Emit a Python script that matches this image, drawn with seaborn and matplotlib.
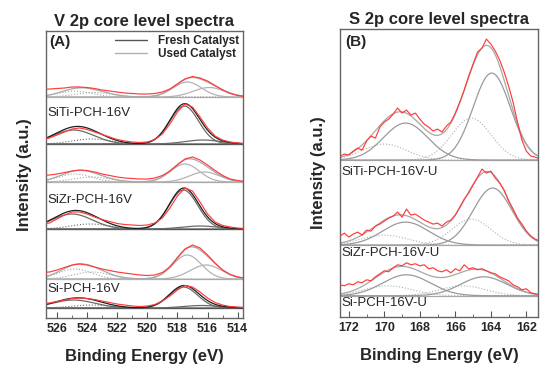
import numpy as np
import seaborn as sns
import matplotlib.pyplot as plt
from matplotlib.lines import Line2D

# ---------------- V 2p data (panel A) ----------------
v_energy = [527.0, 526.5, 526.0, 525.5, 525.0, 524.5, 524.0, 523.5, 523.0, 522.5,
            522.0, 521.5, 521.0, 520.5, 520.0, 519.5, 519.0, 518.5, 518.0, 517.5,
            517.0, 516.5, 516.0, 515.5, 515.0, 514.5, 514.0, 513.5]
# measured spectra (red), intensity above each baseline
v_siti_used = [7.5, 8, 8.5, 9, 10, 10, 9.5, 8.5, 7, 6, 5, 4, 3.5, 3, 3, 3.5, 5, 8, 13, 18,
               20.5, 19, 16, 11.5, 7, 3.5, 1.5, 0.5]
v_siti_fresh = [4, 6, 9, 12, 15, 16, 14.5, 12, 9.5, 7, 4.5, 3, 2, 1.5, 2, 4.5, 10, 20, 32, 40,
                37, 27, 16, 8, 4, 2, 1, 0.5]
v_sizr_used = [6.5, 7, 8, 9.5, 11, 12, 11.5, 10, 8, 6.5, 5, 4, 3.5, 3, 3, 4, 6.5, 11, 17, 23,
               25, 22, 17, 11.5, 6.5, 3, 1.5, 0.5]
v_sizr_fresh = [5, 6, 10, 14, 17, 17, 15, 12, 9.5, 7.5, 5.5, 4.5, 4, 3.5, 4, 6, 11, 21, 33, 41,
                38, 27, 15, 7, 3.5, 2, 1, 0.5]
v_si_used = [6.5, 7, 9, 11.5, 14, 15, 14, 12, 10, 8.5, 7, 6, 5, 4, 3.5, 4, 6.5, 12, 21, 30,
             34, 31, 24, 16, 9, 4.5, 2, 1]
v_si_fresh = [4.5, 5, 6.5, 8, 9.5, 10, 9.5, 8.5, 7, 5.5, 4, 3, 2, 1.5, 2, 3.5, 7, 12, 18, 22.5,
              21, 16, 10, 5.5, 3, 1.5, 1, 0.5]

# fitted components: (centre eV, height, sigma)
v_siti_used_fit = [(517.35, 15, 0.95), (515.9, 9.5, 1.05)]
v_siti_used_dot = [(524.8, 6, 1.1), (523.6, 4.5, 1.2)]
v_siti_fresh_fit = [(517.55, 38, 0.95), (516.3, 4, 1.2), (524.9, 14, 1.35)]
v_siti_fresh_dot = [(523.7, 5, 1.3)]
v_sizr_used_fit = [(517.5, 18, 0.95), (516.2, 10, 1.0)]
v_sizr_used_dot = [(524.8, 8, 1.1), (523.7, 5, 1.2)]
v_sizr_fresh_fit = [(517.6, 39, 0.95), (516.5, 3, 1.2), (525.0, 15, 1.35)]
v_sizr_fresh_dot = [(523.8, 5, 1.3)]
v_si_used_fit = [(517.35, 24, 0.95), (516.1, 14, 1.05)]
v_si_used_dot = [(524.8, 10, 1.1), (523.7, 7, 1.2)]
v_si_fresh_fit = [(517.6, 21, 0.95), (516.4, 2.5, 1.2), (524.9, 8, 1.4)]
v_si_fresh_dot = [(523.7, 3, 1.3)]

v_names = ['SiTi-PCH-16V', 'SiZr-PCH-16V', 'Si-PCH-16V']
v_ticks = [526, 524, 522, 520, 518, 516, 514]

# ---------------- S 2p data (panel B) ----------------
s_energy = [172.5, 172.25, 172.0, 171.75, 171.5, 171.25, 171.0, 170.75, 170.5, 170.25,
            170.0, 169.75, 169.5, 169.25, 169.0, 168.75, 168.5, 168.25, 168.0, 167.75,
            167.5, 167.25, 167.0, 166.75, 166.5, 166.25, 166.0, 165.75, 165.5, 165.25,
            165.0, 164.75, 164.5, 164.25, 164.0, 163.75, 163.5, 163.25, 163.0, 162.75,
            162.5, 162.25, 162.0, 161.75, 161.5, 161.25]
s_siti = [4, 6, 5, 9, 12, 10, 19, 24, 22, 33, 38, 41, 46, 52, 47, 50, 45, 47, 41, 36,
          33, 29, 31, 28, 34, 38, 47, 58, 70, 84, 96, 108, 112, 121, 116, 109, 100, 88, 74, 58,
          38, 20, 9, 4, 3, 1]
s_sizr = [9, 12, 8, 11, 13, 10, 15, 14, 19, 21, 24, 27, 29, 33, 28, 36, 30, 31, 28, 25,
          23, 21, 22, 19, 23, 25, 30, 38, 46, 52, 60, 68, 76, 72, 74, 67, 62, 55, 44, 36,
          27, 21, 14, 9, 6, 4]
s_si = [11, 10, 12, 11, 14, 13, 16, 15, 19, 22, 25, 24, 28, 31, 30, 33, 31, 32, 30, 31,
        27, 28, 25, 24, 26, 23, 27, 25, 31, 27, 28, 26, 27, 25, 23, 22, 19, 17, 15, 11,
        9, 6, 7, 3, 2, 1]

s_siti_fit = [(168.8, 37, 1.25), (163.95, 87, 1.05)]
s_siti_dot = [(170.0, 16, 1.25), (165.1, 42, 1.1)]
s_sizr_fit = [(168.8, 23, 1.3), (163.9, 57, 1.1)]
s_sizr_dot = [(170.0, 10, 1.3), (165.1, 26, 1.1)]
s_si_fit = [(168.75, 21, 1.35), (164.4, 19, 1.3)]
s_si_dot = [(169.8, 10, 1.35), (165.6, 10, 1.3)]

s_names = ['SiTi-PCH-16V-U', 'SiZr-PCH-16V-U', 'Si-PCH-16V-U']
s_ticks = [172, 170, 168, 166, 164, 162]


def gauss(e, c, h, s):
    return h * np.exp(-0.5 * ((e - c) / s) ** 2)


def draw_stack(ax, grid, red_x, red_y, fit, dots, base, c_fit, c_env, c_dot):
    line_kw = dict(ax=ax, estimator=None, sort=False, legend=False)
    sns.lineplot(x=[grid[0], grid[-1]], y=[base, base], color=c_env, lw=0.9, **line_kw)
    env = np.zeros_like(grid)
    for c, h, s in dots:
        y = gauss(grid, c, h, s)
        env += y
        sns.lineplot(x=grid, y=y + base, color=c_dot, lw=0.8, linestyle=':', **line_kw)
    for c, h, s in fit:
        y = gauss(grid, c, h, s)
        env += y
        sns.lineplot(x=grid, y=y + base, color=c_fit, lw=0.9, **line_kw)
    sns.lineplot(x=grid, y=env + base, color=c_env, lw=0.9, **line_kw)
    sns.lineplot(x=red_x, y=np.array(red_y) + base, color='#ff3b3b', lw=0.85,
                 zorder=5, **line_kw)


sns.set_style('ticks')
plt.rcParams['font.family'] = ['Liberation Sans', 'DejaVu Sans']

fig = plt.figure(figsize=(5.5, 3.7), dpi=100)
axA = fig.add_axes([0.083, 0.1405, 0.3587, 0.7757])
axB = fig.add_axes([0.618, 0.143, 0.36, 0.7784])

FRESH = ('#6a6a6a', '#1e1e1e', '#6a6a6a')
USED = ('#b4b4b4', '#a8a8a8', '#a8a8a8')

# panel A
gridA = np.linspace(527.0, 513.4, 500)
a_stacks = [
    (v_siti_used, v_siti_used_fit, v_siti_used_dot, 221, USED),
    (v_siti_fresh, v_siti_fresh_fit, v_siti_fresh_dot, 174, FRESH),
    (v_sizr_used, v_sizr_used_fit, v_sizr_used_dot, 136, USED),
    (v_sizr_fresh, v_sizr_fresh_fit, v_sizr_fresh_dot, 89, FRESH),
    (v_si_used, v_si_used_fit, v_si_used_dot, 39, USED),
    (v_si_fresh, v_si_fresh_fit, v_si_fresh_dot, 10, FRESH),
]
for red, fit, dots, base, cols in a_stacks:
    draw_stack(axA, gridA, v_energy, red, fit, dots, base, *cols)

for name, yy in zip(v_names, [205, 118, 29]):
    axA.text(526.62, yy, name, fontsize=9.5, va='center', ha='left')
axA.text(0.018, 0.96, '(A)', transform=axA.transAxes, fontsize=11,
         fontweight='bold', va='center', ha='left')
handles = [Line2D([], [], color='#555555', lw=1), Line2D([], [], color='#b0b0b0', lw=1)]
axA.legend(handles, ['Fresh Catalyst', 'Used Catalyst'], loc='upper right',
           frameon=False, prop={'weight': 'bold', 'size': 8.5}, handlelength=2.7,
           handletextpad=0.9, labelspacing=0.05, borderaxespad=0.15, borderpad=0.2)
axA.set_xlim(526.75, 513.65)
axA.set_ylim(0, 287)
axA.set_xticks(v_ticks)
axA.set_xticklabels([str(t) for t in v_ticks], fontweight='bold')
axA.set_title('V 2p core level spectra', fontsize=12, fontweight='bold', pad=3.5)

# panel B
gridB = np.linspace(172.6, 161.2, 500)
b_stacks = [
    (s_siti, s_siti_fit, s_siti_dot, 157),
    (s_sizr, s_sizr_fit, s_sizr_dot, 72),
    (s_si, s_si_fit, s_si_dot, 21.3),
]
for red, fit, dots, base in b_stacks:
    draw_stack(axB, gridB, s_energy, red, fit, dots, base, '#9a9a9a', '#a8a8a8', '#b0b0b0')

for name, yy in zip(s_names, [145, 64, 14]):
    axB.text(172.39, yy, name, fontsize=9.5, va='center', ha='left')
axB.text(0.025, 0.955, '(B)', transform=axB.transAxes, fontsize=11,
         fontweight='bold', va='center', ha='left')
axB.set_xlim(172.5, 161.35)
axB.set_ylim(0, 288)
axB.set_xticks(s_ticks)
axB.set_xticklabels([str(t) for t in s_ticks], fontweight='bold')
axB.set_title('S 2p core level spectra', fontsize=12, fontweight='bold', pad=3.5)

for ax in (axA, axB):
    ax.set_yticks([])
    ax.xaxis.set_minor_locator(plt.MultipleLocator(1))
    ax.tick_params(axis='x', which='both', direction='in', labelsize=9, pad=3.5,
                   color='#555555')
    ax.tick_params(axis='x', which='major', length=4)
    ax.tick_params(axis='x', which='minor', length=2.5)
    for sp in ax.spines.values():
        sp.set_color('#666666')
        sp.set_linewidth(1)
    ax.set_xlabel('Binding Energy (eV)', fontsize=12, fontweight='bold', labelpad=10)
    ax.set_ylabel('Intensity (a.u.)', fontsize=12, fontweight='bold', labelpad=10)

fig.savefig('out.png', dpi=100)
